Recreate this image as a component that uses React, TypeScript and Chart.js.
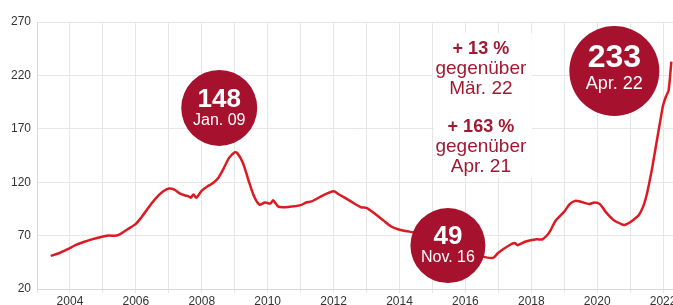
import { useEffect, useRef } from 'react';
import { Chart, registerables } from 'chart.js';

Chart.register(...registerables);

// ---- data (month "YYYY-MM" -> index value) ----
const months = [
  '2003-06','2003-09','2003-12','2004-03','2004-06','2004-09','2004-12','2005-03','2005-06','2005-08',
  '2005-10','2006-01','2006-03','2006-05','2006-07','2006-09','2006-11','2007-01','2007-03','2007-05',
  '2007-07','2007-08','2007-09','2007-10','2007-11','2008-01','2008-03','2008-05','2008-07','2008-09',
  '2008-11','2009-01','2009-02','2009-04','2009-06','2009-08','2009-10','2009-12','2010-02','2010-03',
  '2010-05','2010-09','2011-01','2011-03','2011-05','2011-09','2012-01','2012-03','2012-07','2012-11',
  '2013-01','2013-03','2013-07','2013-10','2014-01','2014-04','2014-06','2014-10','2015-03','2015-08',
  '2016-01','2016-06','2016-11','2017-01','2017-05','2017-07','2017-08','2017-11','2018-03','2018-05',
  '2018-07','2018-08','2018-09','2018-10','2019-01','2019-03','2019-05','2019-07','2019-10','2019-12',
  '2020-02','2020-04','2020-07','2020-10','2020-11','2021-01','2021-04','2021-05','2021-06','2021-07',
  '2021-08','2021-09','2021-10','2021-11','2021-12','2022-01','2022-02','2022-03','2022-04',
];
const values = [
  51, 53.5, 57, 61, 64, 66.5, 68.5, 70, 70, 72.5,
  76, 81, 87, 94, 101, 107, 111.5, 114, 113, 109.5,
  107.5, 107, 105.5, 108.5, 105.5, 112, 116, 119, 124, 133,
  143, 148, 147, 138, 122, 107, 99, 101, 100, 103,
  97, 97, 98.5, 101, 102, 107.5, 111.5, 108.5, 102.5, 96.5,
  96, 92.5, 84.5, 78.5, 75.5, 74, 73, 70.5, 66, 60,
  55, 51, 49, 54, 61, 63, 61, 64.5, 66.5, 66.5,
  71, 75, 80, 84.5, 92.5, 99.5, 102.5, 101.7, 99.5, 101,
  99.5, 92.5, 84.5, 80.5, 80, 82.5, 88.6, 93, 99, 108,
  120, 133, 148, 163, 178, 192, 200, 206, 233,
];
const yTicks = [20, 70, 120, 170, 220, 270];
const xLabelYears = [2004, 2006, 2008, 2010, 2012, 2014, 2016, 2018, 2020, 2022];

// highlight bubbles: value text, date text, anchor (year, index)
const bubbleValues = ['148', '49', '233'];
const bubbleDates = ['Jan. 09', 'Nov. 16', 'Apr. 22'];
const bubbleYears = [2008.53, 2015.47, 2020.52];
const bubbleIdx = [189.5, 60.7, 224.1];

const noteBold = ['+ 13 %', '+ 163 %'];
const noteLines = [['gegenüber', 'Mär. 22'], ['gegenüber', 'Apr. 21']];

const FONT = '"Liberation Sans", Arial, Helvetica, sans-serif';
const CIRCLE = '#a6122d';
const TEXTRED = '#a11a33';
const LINE = '#dc1a22';

const toYear = (m: string) => {
  const [y, mo] = m.split('-').map(Number);
  return y + (mo - 1) / 12;
};

const annotPlugin = {
  id: 'annot',
  beforeDatasetsDraw(chart: any) {
    const { ctx, scales } = chart;
    const cx = scales.x.getPixelForValue(2016.47);
    ctx.save();
    ctx.fillStyle = '#ffffff';
    ctx.fillRect(cx - 47, 33, 98, 145);
    ctx.restore();
  },
  afterDatasetsDraw(chart: any) {
    const { ctx, scales } = chart;
    ctx.save();
    const radii = [38, 37.5, 45];
    const bigSize = [26, 26, 32];
    const smallSize = [16, 16, 18];
    const offs = [[-8, 13], [-9, 12], [-13, 13]];
    bubbleValues.forEach((v, i) => {
      const x = scales.x.getPixelForValue(bubbleYears[i]);
      const y = scales.y.getPixelForValue(bubbleIdx[i]);
      ctx.beginPath();
      ctx.arc(x, y, radii[i], 0, Math.PI * 2);
      ctx.fillStyle = CIRCLE;
      ctx.fill();
      ctx.fillStyle = '#ffffff';
      ctx.textAlign = 'center';
      ctx.textBaseline = 'middle';
      ctx.font = `bold ${bigSize[i]}px ${FONT}`;
      ctx.fillText(v, x, y + offs[i][0]);
      ctx.font = `${smallSize[i]}px ${FONT}`;
      ctx.fillText(bubbleDates[i], x, y + offs[i][1]);
    });

    const tx = scales.x.getPixelForValue(2016.47);
    const starts = [49, 127];
    ctx.fillStyle = TEXTRED;
    ctx.textAlign = 'center';
    ctx.textBaseline = 'middle';
    noteBold.forEach((b, i) => {
      ctx.font = `bold 18px ${FONT}`;
      ctx.fillText(b, tx, starts[i]);
      ctx.font = `19px ${FONT}`;
      noteLines[i].forEach((l, j) => ctx.fillText(l, tx, starts[i] + 20 * (j + 1)));
    });
    ctx.restore();
  },
};

export default function App() {
  const ref = useRef<HTMLCanvasElement | null>(null);
  useEffect(() => {
    document.body.style.margin = '0';
    Chart.defaults.font.family = FONT;
    const chart = new Chart(ref.current!, {
      type: 'line',
      data: {
        datasets: [
          {
            data: months.map((m, i) => ({ x: toYear(m), y: values[i] })),
            borderColor: LINE,
            borderWidth: 2.5,
            pointRadius: 0,
            tension: 0.25,
            fill: false,
          },
        ],
      },
      options: {
        animation: false,
        responsive: false,
        layout: { padding: { top: 22, right: 0, left: 0, bottom: 0 } },
        plugins: { legend: { display: false }, tooltip: { enabled: false } },
        scales: {
          x: {
            type: 'linear',
            min: 2003,
            max: 2022.3,
            grid: { color: '#e6e6e6', drawTicks: true, tickLength: 4 },
            border: { color: '#d8d8d8' },
            ticks: {
              stepSize: 1,
              autoSkip: false,
              maxRotation: 0,
              includeBounds: false,
              padding: 1,
              color: '#333',
              font: { size: 12 },
              callback: (v: any) => (xLabelYears.includes(Number(v)) ? String(v) : ''),
            },
            afterFit: (s: any) => {
              s.height = 16;
              s.paddingLeft = 0;
              s.paddingRight = 0;
            },
          },
          y: {
            min: 20,
            max: 270,
            afterBuildTicks: (s: any) => {
              s.ticks = yTicks.map((v) => ({ value: v }));
            },
            grid: { color: '#e6e6e6', drawTicks: false },
            border: { color: '#d8d8d8' },
            ticks: { padding: 6, color: '#333', font: { size: 12 } },
            afterFit: (s: any) => {
              s.width = 37;
            },
          },
        },
      },
      plugins: [annotPlugin],
    } as any);
    return () => chart.destroy();
  }, []);
  return <canvas ref={ref} width={673} height={305} style={{ display: 'block' }} />;
}
